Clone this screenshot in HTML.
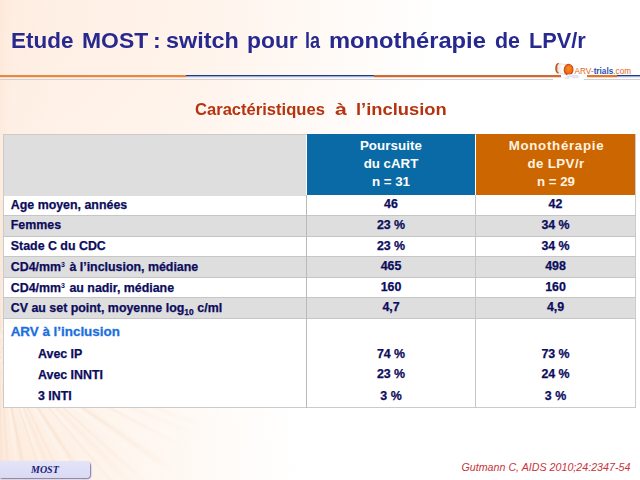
<!DOCTYPE html>
<html lang="fr">
<head>
<meta charset="utf-8">
<title>Etude MOST</title>
<style>
html,body{margin:0;padding:0;}
body{width:640px;height:480px;overflow:hidden;position:relative;font-family:"Liberation Sans",sans-serif;background:#fff;}
#bg{position:absolute;left:0;top:0;width:640px;height:480px;
background:
 linear-gradient(90deg, rgba(251,228,212,0.5) 0px, rgba(252,232,218,0.25) 10px, rgba(255,255,255,0) 60px),
 radial-gradient(ellipse 300px 300px at 0px 470px, rgba(253,236,222,1) 0%, rgba(254,242,232,0.7) 45%, rgba(255,255,255,0) 100%),
 radial-gradient(ellipse 440px 420px at 0px 0px, rgba(255,238,226,1) 0%, rgba(255,241,231,0.85) 45%, rgba(255,255,255,0) 100%);
}
#rays{position:absolute;left:0;top:200px;width:260px;height:280px;
background:
 repeating-conic-gradient(from 0deg at 0px 150px, rgba(238,196,160,0) 0deg, rgba(238,196,160,0.22) 0.9deg, rgba(238,196,160,0) 2.1deg, rgba(238,196,160,0) 7.3deg),
 repeating-conic-gradient(from 2deg at 0px 150px, rgba(238,196,160,0) 0deg, rgba(238,196,160,0.16) 1.6deg, rgba(238,196,160,0) 3.0deg, rgba(255,255,255,0.35) 4.5deg, rgba(255,255,255,0) 6deg, rgba(238,196,160,0) 11deg);
-webkit-mask-image:radial-gradient(ellipse 230px 200px at 0px 150px, #000 30%, transparent 100%);
mask-image:radial-gradient(ellipse 230px 200px at 0px 150px, #000 30%, transparent 100%);
}
.t{position:absolute;white-space:nowrap;font-weight:bold;line-height:1;transform-origin:0 0;}
#title{position:absolute;left:0;top:29.6px;}
.w{top:0;font-size:22.6px;color:#27298f;}
#rule{position:absolute;left:0;top:70px;width:640px;height:14px;}
#sub{position:absolute;left:0;top:100.5px;}
.sw{top:0;font-size:17px;color:#b5330e;}
.box{position:absolute;box-sizing:border-box;}
.hl{position:absolute;left:3.4px;width:632.4px;height:1px;background:#c6c6c6;}
.g{position:absolute;left:4px;width:631px;background:#dedede;}
.v{position:absolute;width:1px;background:#c6c6c6;}
.lab{font-size:12.4px;color:#0c0c5c;left:10.8px;-webkit-text-stroke:0.25px #0c0c5c;}
.c2,.c3{-webkit-text-stroke:0.25px #0c0c5c;font-size:12.4px;color:#0c0c5c;width:120px;text-align:center;}
.c2{left:331px;}
.c3{left:495.5px;}
.h{font-size:13.3px;color:#fff;width:160px;text-align:center;}
.sup{font-size:7px;position:relative;top:-4.3px;margin-right:1px;-webkit-text-stroke:0;}
.sub{font-size:8.4px;position:relative;top:2.8px;letter-spacing:0;margin-right:0.3px;}
#foot{right:9.6px;top:461.9px;font-style:italic;font-weight:normal;font-size:10.7px;color:#c8343a;}
#tag{position:absolute;left:-2px;top:460.5px;width:91.5px;height:17.5px;background:linear-gradient(#e3e3fa,#dadaf4);border-radius:4px;box-shadow:1px 1px 1.5px #7272a6;}
#tag span{position:absolute;left:33px;top:3.5px;font-family:"Liberation Serif",serif;font-style:italic;font-weight:bold;font-size:10px;line-height:11px;color:#1b1b78;}
</style>
</head>
<body>
<div id="bg"></div>
<div id="rays"></div>
<div id="title"><span class="t w" id="w0" style="left:11.03px;transform:scaleX(0.994)">Etude</span> <span class="t w" id="w1" style="left:81.52px;transform:scaleX(1.014)">MOST</span> <span class="t w" id="w2" style="left:152.6px;transform:scaleX(1.027)">:</span> <span class="t w" id="w3" style="left:165.99px;transform:scaleX(1.034)">switch</span> <span class="t w" id="w4" style="left:246.53px;transform:scaleX(1.011)">pour</span> <span class="t w" id="w5" style="left:304.78px;transform:scaleX(0.797)">la</span> <span class="t w" id="w6" style="left:328.97px;transform:scaleX(1.050)">monothérapie</span> <span class="t w" id="w7" style="left:495.04px;transform:scaleX(0.948)">de</span> <span class="t w" id="w8" style="left:529.06px;transform:scaleX(0.963)">LPV/r</span></div>
<svg id="rule" viewBox="0 0 640 14">
<rect x="0" y="9" width="553" height="1" fill="#cfcfd4"/><rect x="584" y="9" width="56" height="1" fill="#cfcfd4"/>
<rect x="0" y="5" width="186" height="2" fill="#e58a45"/><rect x="0" y="7" width="186" height="1" fill="#f8d9bf"/>
<rect x="186" y="5" width="188" height="1.6" fill="#1e3a8c"/><rect x="186" y="6.6" width="188" height="1.4" fill="#e2e8f8"/>
<rect x="374" y="5" width="187" height="2" fill="#cf6a35"/><rect x="374" y="7" width="187" height="1" fill="#f6d6c3"/>
<rect x="587" y="5" width="30" height="2" fill="#e0762e"/><rect x="587" y="7" width="30" height="1" fill="#f6d6c3"/>
<rect x="617" y="5" width="23" height="1.6" fill="#1e3a8c"/><rect x="617" y="6.6" width="23" height="1.4" fill="#e2e8f8"/>
</svg>
<svg id="logo" viewBox="0 0 90 24" style="position:absolute;left:550px;top:58px;width:90px;height:24px;overflow:visible">
<defs>
<radialGradient id="og" cx="0.5" cy="0.4" r="0.6"><stop offset="0" stop-color="#ff8a2a"/><stop offset="0.7" stop-color="#f06a10"/><stop offset="1" stop-color="#c24a10"/></radialGradient>
<linearGradient id="wg" x1="0" y1="0" x2="1" y2="0"><stop offset="0" stop-color="#b86a40"/><stop offset="0.25" stop-color="#f3ece8"/><stop offset="0.7" stop-color="#ffffff"/><stop offset="1" stop-color="#d8d0cc"/></linearGradient>
</defs>
<g transform="translate(0.2,0.7)"><path d="M7.6 4.9 L16.5 5.9 L15.2 15.7 L7.6 14.1 C5.2 13.2 5.0 6.2 7.6 4.9 Z" fill="url(#wg)" stroke="#d9b9a6" stroke-width="0.4"/>
<path d="M8.0 4.8 C5.0 6.0 4.9 13.0 7.9 14.3" fill="none" stroke="#b9561f" stroke-width="1.3" stroke-linecap="round"/>
<ellipse cx="18.4" cy="11.0" rx="4.4" ry="5.3" transform="rotate(8 18.4 11)" fill="url(#og)" stroke="#c4501a" stroke-width="1.1"/></g>
<ellipse cx="20" cy="17.6" rx="3.2" ry="1.3" fill="#eef0f6" stroke="#c5cbdc" stroke-width="0.5"/>
<ellipse cx="25.5" cy="18.6" rx="3.4" ry="1.3" fill="#e8ecf5" stroke="#c0c8dc" stroke-width="0.5"/>
<ellipse cx="17" cy="20" rx="2.4" ry="1" fill="#eef0f6" stroke="#cfd4e2" stroke-width="0.4"/>
<text x="24.6" y="15.6" font-family="Liberation Sans, sans-serif" font-size="8.3" textLength="56.5" lengthAdjust="spacingAndGlyphs"><tspan fill="#e0651a">ARV-</tspan><tspan fill="#2a4fb0" font-weight="bold">trials</tspan><tspan fill="#e0651a">.com</tspan></text>
</svg>
<div id="sub"><span class="t sw" id="s0" style="left:195.01px;transform:scaleX(0.975)">Caractéristiques</span> <span class="t sw" id="s1" style="left:335.44px;transform:scaleX(1.250)">à</span> <span class="t sw" id="s2" style="left:355.92px;transform:scaleX(1.079)">l’inclusion</span></div>

<!-- table -->
<div class="box" style="left:3.4px;top:134px;width:632.4px;height:273.7px;background:#fff;border:1px solid #cbcbcb;"></div>
<div class="g" style="top:135px;height:60.8px;width:302px"></div>
<div class="box" style="left:306.7px;top:134.2px;width:168.6px;height:60.5px;background:#0a6aa5;"></div>
<div class="box" style="left:475.8px;top:134.2px;width:159.5px;height:60.5px;background:#cc6600;"></div>
<div class="g" style="top:215.8px;height:20.4px"></div>
<div class="g" style="top:256.8px;height:20.4px"></div>
<div class="g" style="top:297.8px;height:20.4px"></div>
<div class="hl" style="top:215.3px"></div>
<div class="hl" style="top:235.8px"></div>
<div class="hl" style="top:256.3px"></div>
<div class="hl" style="top:276.8px"></div>
<div class="hl" style="top:297.3px"></div>
<div class="hl" style="top:317.9px"></div>
<div class="v" style="left:306px;top:195px;height:213px;background:#b9b9b9"></div>
<div class="v" style="left:475px;top:195px;height:213px"></div>

<div class="t h" style="left:311px;top:138.9px;letter-spacing:0.1px" id="h1a">Poursuite</div>
<div class="t h" style="left:311px;top:156.8px" id="h1b">du cART</div>
<div class="t h" style="left:311px;top:175px" id="h1c">n = 31</div>
<div class="t h" style="color:#fff3e0;left:476.5px;top:138.9px;letter-spacing:0.7px" id="h2a">Monothérapie</div>
<div class="t h" style="color:#fff3e0;left:476px;top:156.8px;letter-spacing:0.4px" id="h2b">de LPV/r</div>
<div class="t h" style="color:#fff3e0;left:476px;top:175px" id="h2c">n = 29</div>

<div class="t lab" style="top:198.5px" id="l1">Age moyen, années</div><div class="t c2" style="top:197.9px">46</div><div class="t c3" style="top:197.9px">42</div>
<div class="t lab" style="top:219.1px" id="l2">Femmes</div><div class="t c2" style="top:219.1px">23 %</div><div class="t c3" style="top:219.1px">34 %</div>
<div class="t lab" style="top:239.7px" id="l3">Stade C du CDC</div><div class="t c2" style="top:239.7px">23 %</div><div class="t c3" style="top:239.7px">34 %</div>
<div class="t lab" style="top:261px" id="l4">CD4/mm<span class="sup">3</span> à l’inclusion, médiane</div><div class="t c2" style="top:260.3px">465</div><div class="t c3" style="top:260.3px">498</div>
<div class="t lab" style="top:281.8px" id="l5">CD4/mm<span class="sup">3</span> au nadir, médiane</div><div class="t c2" style="top:280.9px">160</div><div class="t c3" style="top:280.9px">160</div>
<div class="t lab" style="top:302.1px" id="l6">CV au set point, moyenne log<span class="sub">10</span> c/ml</div><div class="t c2" style="top:301.4px">4,7</div><div class="t c3" style="top:301.4px">4,9</div>
<div class="t" style="left:10.7px;top:325px;font-size:13.4px;color:#1b6fe0;-webkit-text-stroke:0.3px #1b6fe0" id="arv">ARV à l’inclusion</div>
<div class="t lab" style="left:38px;top:347.5px" id="l7">Avec IP</div><div class="t c2" style="top:347.7px">74 %</div><div class="t c3" style="top:347.7px">73 %</div>
<div class="t lab" style="left:38px;top:368.5px" id="l8">Avec INNTI</div><div class="t c2" style="top:368px">23 %</div><div class="t c3" style="top:368px">24 %</div>
<div class="t lab" style="left:38px;top:390px" id="l9">3 INTI</div><div class="t c2" style="top:389.6px">3 %</div><div class="t c3" style="top:389.6px">3 %</div>

<div id="tag"><span>MOST</span></div>
<div id="foot" class="t">Gutmann C, AIDS 2010;24:2347-54</div>
</body>
</html>
